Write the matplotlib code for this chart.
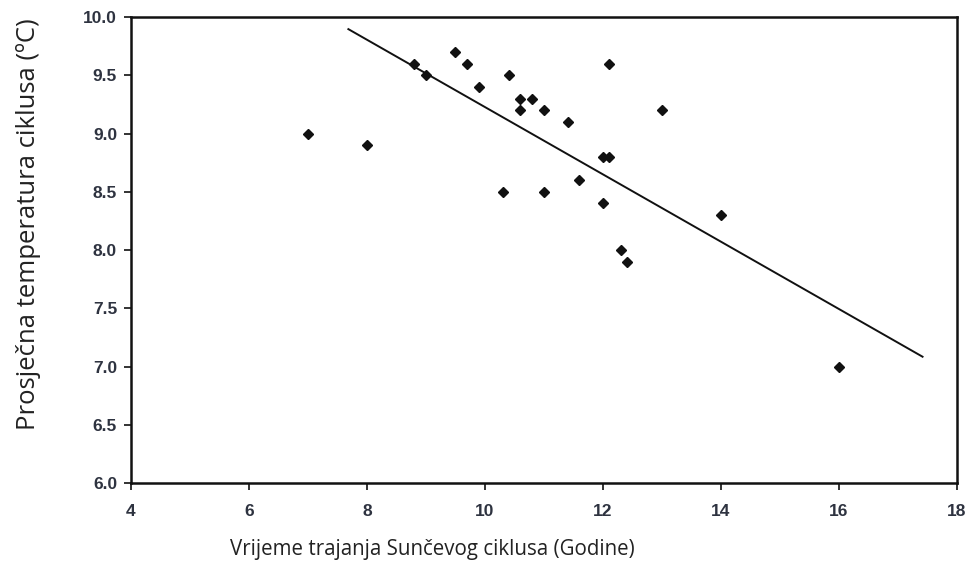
import matplotlib
matplotlib.use("Agg")
import matplotlib.pyplot as plt

# Data
cycle_length = [7.0, 8.0, 8.8, 9.0, 9.5, 9.7, 9.9, 10.4, 10.6, 10.8, 10.6, 11.0,
                11.4, 12.1, 13.0, 12.0, 12.1, 11.6, 10.3, 11.0, 12.0, 12.3, 12.4,
                14.0, 16.0]
avg_temp = [9.0, 8.9, 9.6, 9.5, 9.7, 9.6, 9.4, 9.5, 9.3, 9.3, 9.2, 9.2,
            9.1, 9.6, 9.2, 8.8, 8.8, 8.6, 8.5, 8.5, 8.4, 8.0, 7.9,
            8.3, 7.0]
trend_x = [7.67, 17.43]
trend_y = [9.90, 7.08]

x_ticks = [4, 6, 8, 10, 12, 14, 16, 18]
y_ticks = [6.0, 6.5, 7.0, 7.5, 8.0, 8.5, 9.0, 9.5, 10.0]

fig = plt.figure(figsize=(9.71, 5.65), dpi=100)
ax = fig.add_axes([0.1349, 0.1451, 0.8507, 0.8248])

ax.plot(trend_x, trend_y, color="#111111", lw=1.4, solid_capstyle="butt")
ax.plot(cycle_length, avg_temp, linestyle="none", marker="D", ms=5.5,
        color="#111111", mec="#111111")

ax.set_xlim(4, 18)
ax.set_ylim(6.0, 10.0)
ax.set_xticks(x_ticks)
ax.set_yticks(y_ticks)
ax.set_xticklabels([str(t) for t in x_ticks])
ax.set_yticklabels([f"{t:.1f}" for t in y_ticks])

for sp in ax.spines.values():
    sp.set_linewidth(1.8)
    sp.set_color("#111111")

ax.tick_params(direction="out", length=5, width=1.2, color="#111111",
               labelsize=12.5, labelcolor="#2e3340")
ax.tick_params(axis="x", pad=10)
ax.tick_params(axis="y", pad=5)
for lab in ax.get_xticklabels() + ax.get_yticklabels():
    lab.set_fontfamily("Liberation Sans")
    lab.set_fontweight("bold")

fig.text(0.029, 0.603, "Prosječna temperatura ciklusa (ºC)", rotation=90,
         ha="center", va="center", fontsize=18.5, family="Open Sans",
         color="#222222")
fig.text(0.4454, 0.028, "Vrijeme trajanja Sunčevog ciklusa (Godine)",
         ha="center", va="center", fontsize=14.8, family="Open Sans",
         color="#222222")

fig.savefig("out.png", dpi=100)
